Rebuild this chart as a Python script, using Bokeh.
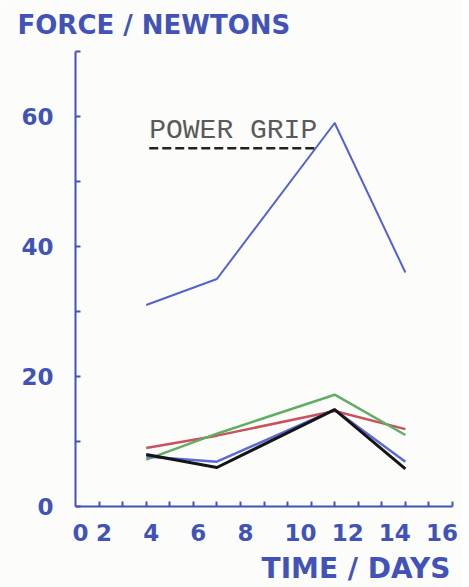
from bokeh.plotting import figure
from bokeh.models import Range1d, FixedTicker, Label, Arrow, Title, CustomJSTickFormatter
from bokeh.embed import file_html
from bokeh.resources import INLINE

# ---- data ----
days = [4, 7, 12, 15]
power_grip = [31, 35, 59, 36]
red_series = [9.0, 10.9, 14.7, 11.9]
green_series = [7.2, 11.2, 17.2, 11.0]
blue_series = [7.7, 6.9, 14.9, 6.9]
black_series = [8.0, 6.0, 14.9, 5.8]

x_label_pos = [1, 2, 4, 6, 8, 10, 12, 14, 16]
x_label_text = ["0", "2", "4", "6", "8", "10", "12", "14", "16"]
y_major = [0, 20, 40, 60]
y_minor = [10, 30, 50, 70]
x_minor = list(range(2, 18))

AXIS_BLUE = "#4253b8"
FONT = "DejaVu Sans"
FRAME_W, FRAME_H = 377, 455
PX_PER_DAY = FRAME_W / 16.0
DIGIT_W = 16.0

p = figure(frame_width=FRAME_W, frame_height=FRAME_H, output_backend="svg", toolbar_location=None,
           x_range=Range1d(1, 17), y_range=Range1d(0, 70),
           min_border_left=75, min_border_right=9, min_border_top=50, min_border_bottom=4)
p.background_fill_color = "#fcfcfa"
p.border_fill_color = "#fcfcfa"
p.outline_line_color = None
p.grid.visible = False

# x axis: labels left-aligned at their tick -> centre them by shifting tick positions
label_centres = [xv + (len(t) * DIGIT_W / 2 - 3) / PX_PER_DAY for xv, t in zip(x_label_pos, x_label_text)]
xa = p.xaxis[0]
xa.ticker = FixedTicker(ticks=label_centres, minor_ticks=x_minor)
xa.formatter = CustomJSTickFormatter(args=dict(labels=x_label_text), code="return labels[index];")
xa.axis_line_color = AXIS_BLUE
xa.axis_line_width = 2
xa.minor_tick_line_color = AXIS_BLUE
xa.minor_tick_line_width = 2
xa.minor_tick_in = 5
xa.minor_tick_out = 0
xa.major_tick_in = 0
xa.major_tick_out = 0
xa.major_label_standoff = 17
xa.major_label_text_font = FONT
xa.major_label_text_font_style = "bold"
xa.major_label_text_font_size = "23px"
xa.major_label_text_color = AXIS_BLUE

# y axis
ya = p.yaxis[0]
ya.ticker = FixedTicker(ticks=y_major, minor_ticks=y_minor)
ya.axis_line_color = AXIS_BLUE
ya.axis_line_width = 2
ya.major_tick_line_color = AXIS_BLUE
ya.major_tick_line_width = 2
ya.major_tick_in = 5
ya.major_tick_out = 0
ya.minor_tick_line_color = AXIS_BLUE
ya.minor_tick_line_width = 2
ya.minor_tick_in = 5
ya.minor_tick_out = 0
ya.major_label_standoff = 22
ya.major_label_text_font = FONT
ya.major_label_text_font_style = "bold"
ya.major_label_text_font_size = "23px"
ya.major_label_text_color = AXIS_BLUE

# titles
p.add_layout(Title(text="FORCE / NEWTONS", align="left", offset=-58, standoff=19,
                   vertical_align="top",
                   text_font=FONT, text_font_style="bold", text_font_size="26px",
                   text_color=AXIS_BLUE), "above")
p.add_layout(Title(text="TIME / DAYS", align="right", offset=2, standoff=12,
                   text_font=FONT, text_font_style="bold", text_font_size="28px",
                   text_color=AXIS_BLUE), "below")

# series
p.line(days, red_series, line_color="#c9525e", line_width=2.5, line_join="round")
p.line(days, green_series, line_color="#5fae62", line_width=2.5, line_join="round")
p.line(days, blue_series, line_color="#5a6ad6", line_width=2.5, line_join="round")
p.line(days, black_series, line_color="#151515", line_width=3, line_join="round")
p.line(days, power_grip, line_color="#5262d2", line_width=2, line_join="round")

# power grip annotation
p.add_layout(Label(x=4, y=57.8, x_offset=3, text="POWER GRIP",
                   text_align="left", text_baseline="alphabetic",
                   text_font="Liberation Mono", text_font_size="28px",
                   text_color="#5a5a5a"))
p.add_layout(Arrow(start=None, end=None, x_start=4.13, y_start=55.1, x_end=11.3, y_end=55.1,
                   line_color="#222222", line_width=2.5, line_dash="9 4"))

open("out.html", "w").write(file_html(p, INLINE))
